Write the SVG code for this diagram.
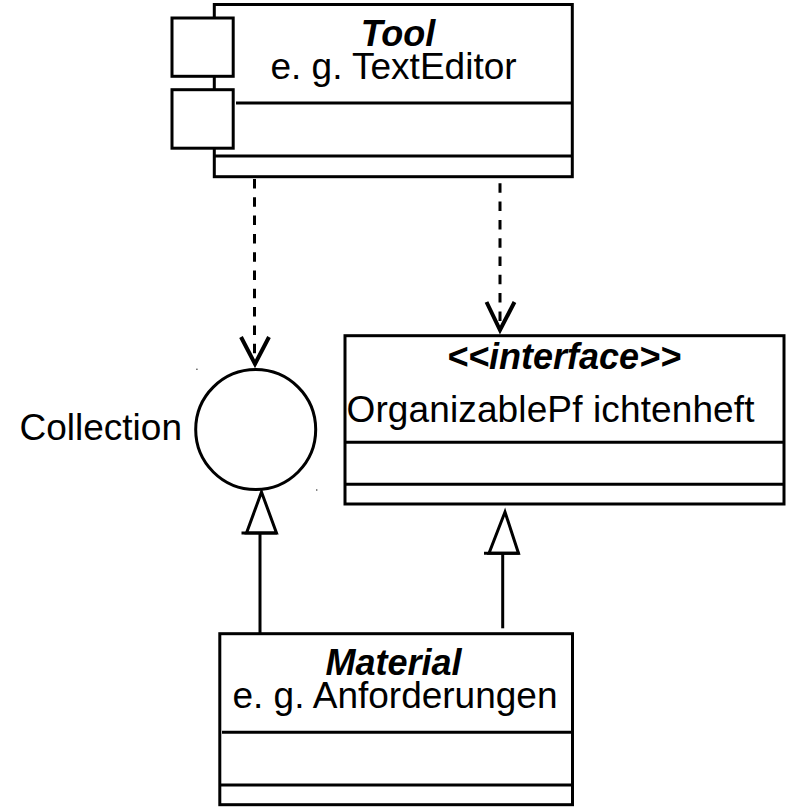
<svg xmlns="http://www.w3.org/2000/svg" width="791" height="807" viewBox="0 0 791 807">
  <style>
    .box { fill: #fff; stroke: #000; stroke-width: 3; }
    .sep { stroke: #000; stroke-width: 3; fill: none; }
    .dep { stroke: #000; stroke-width: 3; fill: none; stroke-dasharray: 9.5 8.8; }
    .open { stroke: #000; stroke-width: 4; fill: none; stroke-linejoin: miter; }
    .gen { stroke: #000; stroke-width: 3; fill: #fff; stroke-linejoin: miter; }
    .line { stroke: #000; stroke-width: 3; fill: none; }
    text { font-family: "Liberation Sans", Arial, Helvetica, sans-serif; font-size: 37px; fill: #000; }
    .title { font-weight: bold; font-style: italic; font-size: 36px; }
    .c { text-anchor: middle; }
  </style>

  <rect width="791" height="807" fill="#fff"/>

  <!-- Tool component with two port boxes on the left -->
  <g id="tool">
    <rect class="box" x="214.3" y="4.5" width="358" height="172.2"/>
    <line class="sep" x1="236" y1="103" x2="572.3" y2="103"/>
    <line class="sep" x1="214.3" y1="156" x2="572.3" y2="156"/>
    <rect class="box" x="172" y="18" width="61.2" height="58.3"/>
    <rect class="box" x="172" y="89.7" width="61.2" height="58.5"/>
    <text class="title c" x="398" y="46">Tool</text>
    <text class="c" x="393.5" y="78.5">e. g. TextEditor</text>
  </g>

  <!-- Interface class -->
  <g id="interface">
    <rect class="box" x="345" y="335.7" width="439" height="168.3"/>
    <line class="sep" x1="345" y1="442.3" x2="784" y2="442.3"/>
    <line class="sep" x1="345" y1="484.3" x2="784" y2="484.3"/>
    <text class="title c" x="564" y="369.3">&lt;&lt;interface&gt;&gt;</text>
    <text x="346.5" y="421.7" textLength="408" lengthAdjust="spacing">OrganizablePf ichtenheft</text>
  </g>

  <!-- Collection interface in lollipop notation -->
  <g id="collection">
    <circle class="box" cx="255.7" cy="429.6" r="60"/>
    <text x="19.5" y="440">Collection</text>
    <rect x="196.2" y="368.6" width="1.4" height="1.4" fill="#555"/>
    <rect x="316" y="489.3" width="1.4" height="1.4" fill="#555"/>
  </g>

  <!-- Material class -->
  <g id="material">
    <rect class="box" x="219.8" y="633.7" width="352.7" height="171"/>
    <line class="sep" x1="222" y1="732.3" x2="571" y2="732.3"/>
    <line class="sep" x1="219.8" y1="785" x2="572.5" y2="785"/>
    <text class="title c" x="393.5" y="675">Material</text>
    <text class="c" x="395" y="708.3">e. g. Anforderungen</text>
  </g>

  <!-- Dependencies and generalizations -->
  <g id="connectors">
    <line class="dep" x1="254.5" y1="179" x2="254.5" y2="362"/>
    <polyline class="open" points="241,337 255,364 269,337"/>

    <line class="dep" x1="500" y1="183.3" x2="500" y2="328"/>
    <polyline class="open" points="486.5,302 500,330 514.5,302"/>

    <line class="line" x1="260" y1="533" x2="260" y2="635"/>
    <polygon class="gen" points="261.5,492 246.5,533 276.5,533"/>
    <line class="line" x1="241.5" y1="533" x2="277" y2="533"/>

    <line class="line" x1="502.7" y1="553.3" x2="502.7" y2="628.3"/>
    <polygon class="gen" points="505,512 489,553.3 518.5,553.3"/>
    <line class="line" x1="484" y1="553.3" x2="519.5" y2="553.3"/>
  </g>
</svg>
